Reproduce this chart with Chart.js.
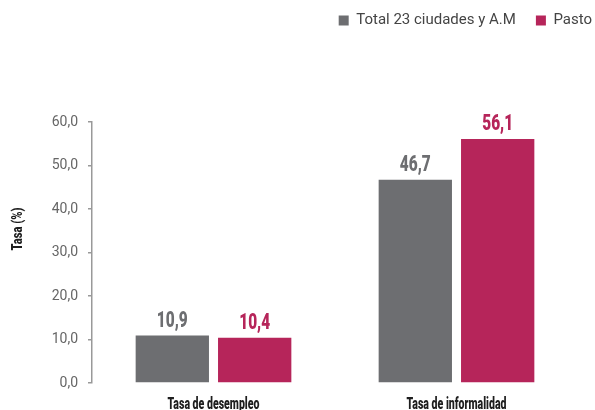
<!DOCTYPE html>
<html>
<head>
<meta charset="utf-8">
<script src="https://cdn.jsdelivr.net/npm/chart.js@4.4.1/dist/chart.umd.min.js"></script>
<style>
    html, body { margin: 0; padding: 0; background: #fff; }
</style>
</head>
<body>
<canvas id="chart" width="595" height="410"></canvas>
<script>
const categories = ['Tasa de desempleo', 'Tasa de informalidad'];
const seriesNames = ['Total 23 ciudades y A.M', 'Pasto'];
const totalCiudades = [10.9, 46.7];
const pasto = [10.4, 56.1];
const yAxisTitle = 'Tasa (%)';
const yMin = 0;
const yMax = 60;
const yStep = 10;

const GRAY = '#6d6e71';
const PINK = '#b6255a';

function fmt(v)
{
    return Number(v).toFixed(1).replace('.', ',');
}

// no condensed face installed, so squeeze Roboto bold horizontally
function condensedText(ctx, text, x, y, sx)
{
    ctx.save();
    ctx.translate(x, y);
    ctx.scale(sx, 1);
    ctx.fillText(text, 0, 0);
    ctx.restore();
}

// legend sits high, leave a tall empty band under it
const legendSpace = {
    id: 'legendSpace',
    beforeInit(chart) {
        const fit = chart.legend.fit;
        chart.legend.fit = function () {
            fit.call(this);
            this.height = 120;
        };
    },
    afterLayout(chart) {
        chart.legend.left += 34;
        chart.legend.right += 34;
        chart.legend.top -= 9;
    }
};

const valueLabels = {
    id: 'valueLabels',
    afterDatasetsDraw(chart) {
        const ctx = chart.ctx;
        ctx.save();
        ctx.font = '900 22px Roboto';
        ctx.textAlign = 'center';
        ctx.textBaseline = 'alphabetic';
        chart.data.datasets.forEach((ds, i) => {
            chart.getDatasetMeta(i).data.forEach((bar, j) => {
                ctx.fillStyle = ds.backgroundColor;
                condensedText(ctx, fmt(ds.data[j]), bar.x, bar.y - 9, 0.7);
            });
        });
        ctx.restore();
    }
};

const axisTexts = {
    id: 'axisTexts',
    afterDraw(chart) {
        const ctx = chart.ctx;
        const xScale = chart.scales.x;
        ctx.save();
        ctx.fillStyle = '#1e1e1e';
        ctx.textAlign = 'center';
        ctx.font = '900 16px Roboto';
        ctx.textBaseline = 'alphabetic';
        categories.forEach((c, i) => {
            condensedText(ctx, c, xScale.getPixelForTick(i), 409, 0.66);
        });
        ctx.translate(18, 229);
        ctx.rotate(-Math.PI / 2);
        ctx.font = '900 14px Roboto';
        ctx.textBaseline = 'middle';
        condensedText(ctx, yAxisTitle, 0, 0, 0.8);
        ctx.restore();
    }
};

new Chart(document.getElementById('chart').getContext('2d'), {
    type: 'bar',
    data: {
        labels: categories,
        datasets: [
            { label: seriesNames[0], data: totalCiudades, backgroundColor: GRAY, borderColor: GRAY, borderWidth: 0 },
            { label: seriesNames[1], data: pasto, backgroundColor: PINK, borderColor: PINK, borderWidth: 0 }
        ]
    },
    options: {
        responsive: false,
        animation: false,
        devicePixelRatio: 1,
        categoryPercentage: 0.678,
        barPercentage: 0.89,
        layout: { padding: { top: 2, left: 50, right: 17, bottom: 0 } },
        plugins: {
            tooltip: { enabled: false },
            legend: {
                position: 'top',
                align: 'end',
                labels: {
                    boxWidth: 10,
                    boxHeight: 10,
                    padding: 20,
                    color: '#444',
                    font: { family: 'Roboto', size: 15 }
                }
            }
        },
        scales: {
            x: {
                grid: { display: false, drawTicks: false },
                border: { display: false },
                ticks: { display: false },
                afterFit(scale) { scale.height = 27; }
            },
            y: {
                min: yMin,
                max: yMax,
                ticks: {
                    stepSize: yStep,
                    padding: 10,
                    color: '#666',
                    font: { family: 'Roboto', size: 14 },
                    callback: v => fmt(v)
                },
                grid: { drawOnChartArea: false, tickLength: 4, color: '#999', lineWidth: 1.5 },
                border: { color: '#999', width: 1.5 },
                afterFit(scale) { scale.width = 42; }
            }
        }
    },
    plugins: [legendSpace, valueLabels, axisTexts]
});
</script>
</body>
</html>
